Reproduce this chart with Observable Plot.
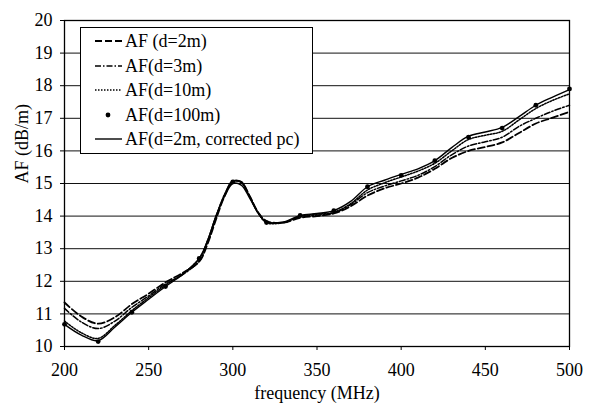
<!DOCTYPE html>
<html>
<head>
<meta charset="utf-8">
<script src="https://cdn.jsdelivr.net/npm/d3@7"></script>
<script src="https://cdn.jsdelivr.net/npm/@observablehq/plot@0.6"></script>
<style>
  body { margin: 0; background: #fff; }
  #wrap { position: relative; width: 592px; height: 403px; font-family: "Liberation Serif", "Times New Roman", serif; }
  #wrap svg text { font-family: "Liberation Serif", "Times New Roman", serif; }
  #legend { position: absolute; left: 80px; top: 27px; width: 231px; height: 125px; border: 1px solid #000; background: #fff; }
  .row { position: absolute; left: 0; height: 24px; display: flex; align-items: center; font-size: 18px; color: #000; white-space: nowrap; }
  .row svg { margin-left: 14px; margin-right: 3px; }
</style>
</head>
<body>
<div id="wrap"><div id="legend"></div></div>
<script>
const freq = [200,210,220,230,240,250,260,270,280,285,290,295,300,305,310,315,320,330,340,350,360,370,380,390,400,410,420,430,440,450,460,470,480,490,500];
const af2m = [11.35,10.92,10.70,10.90,11.30,11.62,11.97,12.25,12.60,13.15,13.90,14.60,15.05,15.05,14.62,14.12,13.85,13.80,13.95,14.00,14.08,14.30,14.63,14.85,15.00,15.18,15.45,15.78,16.00,16.12,16.26,16.55,16.84,17.02,17.20];
const af3m = [11.17,10.75,10.55,10.78,11.20,11.55,11.92,12.20,12.62,13.20,13.95,14.65,15.08,15.05,14.60,14.10,13.82,13.80,13.98,14.03,14.10,14.35,14.72,14.92,15.08,15.25,15.52,15.88,16.15,16.28,16.42,16.75,17.00,17.22,17.40];
const af10m = [10.78,10.42,10.25,10.65,11.10,11.50,11.88,12.22,12.70,13.25,14.00,14.65,15.08,15.02,14.60,14.10,13.80,13.80,14.00,14.06,14.12,14.38,14.80,15.02,15.20,15.38,15.62,16.00,16.35,16.48,16.60,16.95,17.30,17.55,17.75];
const afCorr = [10.68,10.35,10.18,10.60,11.05,11.45,11.84,12.20,12.70,13.25,14.00,14.60,15.00,14.95,14.55,14.10,13.82,13.82,14.02,14.08,14.17,14.45,14.90,15.10,15.28,15.45,15.70,16.10,16.45,16.58,16.72,17.05,17.40,17.65,17.88];
const freq100 = [200,220,240,260,280,300,320,340,360,380,400,420,440,460,480,500];
const af100m = [10.68,10.15,11.05,11.84,12.70,15.05,13.80,14.02,14.17,14.90,15.25,15.70,16.42,16.70,17.40,17.90];
const xTicks = [200,250,300,350,400,450,500];
const yTicks = [10,11,12,13,14,15,16,17,18,19,20];
const seriesNames = ["AF (d=2m)","AF(d=3m)","AF(d=10m)","AF(d=100m)","AF(d=2m, corrected pc)"];

const toRows = (xs, ys) => xs.map((f, i) => ({f, v: ys[i]}));
const lineOpts = {x: "f", y: "v", curve: "catmull-rom", stroke: "#000"};
const serif = '"Liberation Serif", "Times New Roman", serif';

const chart = Plot.plot({
  width: 592, height: 403,
  marginLeft: 64, marginRight: 23, marginTop: 20, marginBottom: 57,
  style: {fontFamily: serif, fontSize: "18px", color: "#000", background: "#fff"},
  x: {domain: [200, 500]},
  y: {domain: [10, 20]},
  marks: [
    Plot.gridY(yTicks, {stroke: "#111", strokeOpacity: 1, strokeWidth: 1}),
    Plot.frame({stroke: "#000", strokeWidth: 1.3}),
    Plot.axisX(xTicks, {tickSize: 4, tickPadding: 13, fontSize: 18, fontFamily: serif, label: null}),
    Plot.axisY(yTicks, {tickSize: 4, tickPadding: 8, fontSize: 18, fontFamily: serif, label: null}),
    Plot.line(toRows(freq, af2m), {...lineOpts, strokeWidth: 1.8, strokeDasharray: "7,3"}),
    Plot.line(toRows(freq, af3m), {...lineOpts, strokeWidth: 1.5, strokeDasharray: "6,2,1.5,2"}),
    Plot.line(toRows(freq, af10m), {...lineOpts, strokeWidth: 1.5, strokeDasharray: "1.5,1.5"}),
    Plot.line(toRows(freq, afCorr), {...lineOpts, strokeWidth: 1.4}),
    Plot.dot(toRows(freq100, af100m), {x: "f", y: "v", r: 2.4, fill: "#000", stroke: "none"}),
    Plot.text(["frequency (MHz)"], {frameAnchor: "bottom", dy: 52, fontSize: 18, fontFamily: serif, fill: "#000"}),
    Plot.text(["AF (dB/m)"], {frameAnchor: "left", dx: -42, rotate: -90, fontSize: 18, fontFamily: serif, fill: "#000"})
  ]
});
document.getElementById("wrap").prepend(chart);

// legend
const styles = [
  {dash: "7,3", w: 1.8},
  {dash: "6,2,1.5,2", w: 1.5},
  {dash: "1.5,1.5", w: 1.5},
  {dot: true},
  {dash: null, w: 1.4}
];
const rowTops = [1, 26, 50, 75, 99];
const legend = document.getElementById("legend");
seriesNames.forEach((name, i) => {
  const row = document.createElement("div");
  row.className = "row";
  row.style.top = rowTops[i] + "px";
  const s = styles[i];
  const sym = s.dot
    ? `<circle cx="13" cy="12" r="2.4" fill="#000"/>`
    : `<line x1="0" x2="27" y1="12" y2="12" stroke="#000" stroke-width="${s.w}" ${s.dash ? `stroke-dasharray="${s.dash}"` : ""}/>`;
  row.innerHTML = `<svg width="27" height="24">${sym}</svg><span>${name}</span>`;
  legend.appendChild(row);
});
</script>
</body>
</html>
